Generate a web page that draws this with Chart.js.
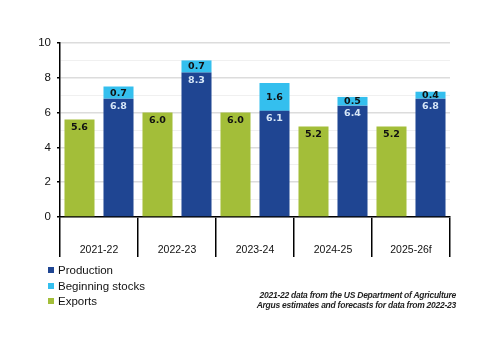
<!DOCTYPE html>
<html>
<head>
<meta charset="utf-8">
<script src="https://cdn.jsdelivr.net/npm/chart.js@4"></script>
<style>
  html, body { margin: 0; padding: 0; background: #fff; }
  #wrap { position: relative; width: 500px; height: 353px; font-family: 'Liberation Sans', sans-serif; }
  #legend { position: absolute; left: 48px; top: 263px; font-size: 11.5px; color: #111; }
  #legend div { height: 15.5px; line-height: 15.5px; white-space: nowrap; }
  #legend span { display: inline-block; width: 6px; height: 6px; margin-right: 4px; vertical-align: 1px; }
  #note { position: absolute; right: 44px; top: 290px; font-size: 8.5px; font-style: italic; font-weight: bold;
          color: #222; text-align: right; line-height: 10px; white-space: nowrap; letter-spacing: -0.25px; }
</style>
</head>
<body>
<div id="wrap">
  <canvas id="c" width="500" height="353"></canvas>
  <div id="legend">
    <div><span style="background:#1f4592"></span>Production</div>
    <div><span style="background:#34bfee"></span>Beginning stocks</div>
    <div><span style="background:#a3be39"></span>Exports</div>
  </div>
  <div id="note">2021-22 data from the US Department of Agriculture<br>Argus estimates and forecasts for data from 2022-23</div>
</div>
<script>
var seasons = ['2021-22', '2022-23', '2023-24', '2024-25', '2025-26f'];
var exportsVals = [5.6, 6.0, 6.0, 5.2, 5.2];
var production = [6.8, 8.3, 6.1, 6.4, 6.8];
var beginningStocks = [0.7, 0.7, 1.6, 0.5, 0.4];

var GREEN = '#a3be39', DARK = '#1f4592', LIGHT = '#34bfee';

// valori uz stabiņiem
var barLabels = {
  id: 'barLabels',
  afterDatasetsDraw: function (chart) {
    var ctx = chart.ctx;
    ctx.save();
    ctx.textAlign = 'center';
    ctx.textBaseline = 'middle';
    ctx.font = 'bold 9.5px "DejaVu Sans", sans-serif';
    chart.data.datasets.forEach(function (ds, di) {
      var meta = chart.getDatasetMeta(di);
      meta.data.forEach(function (bar, i) {
        var txt = ds.data[i].toFixed(1);
        var y;
        if (ds.label === 'Beginning stocks') {
          y = (bar.y + bar.base) / 2 + 0.5;
          ctx.fillStyle = '#111';
        } else if (ds.label === 'Production') {
          y = bar.y + 8;
          ctx.fillStyle = '#d6e6f7';
        } else {
          y = bar.y + 8;
          ctx.fillStyle = '#111';
        }
        ctx.fillText(txt, bar.x, y);
      });
    });
    ctx.restore();
  }
};

new Chart(document.getElementById('c'), {
  type: 'bar',
  data: {
    labels: seasons,
    datasets: [
      {label: 'Exports', data: exportsVals, backgroundColor: GREEN, stack: 'exp'},
      {label: 'Production', data: production, backgroundColor: DARK, stack: 'sup'},
      {label: 'Beginning stocks', data: beginningStocks, backgroundColor: LIGHT, stack: 'sup'}
    ]
  },
  options: {
    responsive: false, animation: false,
    categoryPercentage: 1.0, barPercentage: 0.77,
    layout: {padding: {top: 43, right: 50, bottom: 96, left: 0}},
    plugins: {legend: {display: false}, tooltip: {enabled: false}},
    scales: {
      x: {
        stacked: true,
        grid: {offset: true, drawOnChartArea: false, color: '#000', lineWidth: 1.5, tickLength: 40},
        border: {color: '#000', width: 1.5},
        ticks: {color: '#111', padding: -13, font: {family: 'Liberation Sans', size: 10.5}},
        afterFit: function (s) { s.height = 40; }
      },
      y: {
        stacked: true, min: 0, max: 10,
        grid: {
          color: function (c) { return c.tick.value % 2 === 0 ? '#dcdcdc' : '#f0f0f0'; },
          lineWidth: function (c) { return c.tick.value % 2 === 0 ? 1.5 : 1; },
          tickColor: function (c) { return c.tick.value % 2 === 0 ? '#000' : 'rgba(0,0,0,0)'; },
          tickLength: 3
        },
        border: {color: '#000', width: 1.5},
        ticks: {
          stepSize: 1, padding: 6, color: '#111',
          font: {family: 'Liberation Sans', size: 11.5},
          callback: function (v) { return v % 2 === 0 ? v : ''; }
        },
        afterFit: function (s) { s.width = 60; }
      }
    }
  },
  plugins: [barLabels]
});
</script>
</body>
</html>
